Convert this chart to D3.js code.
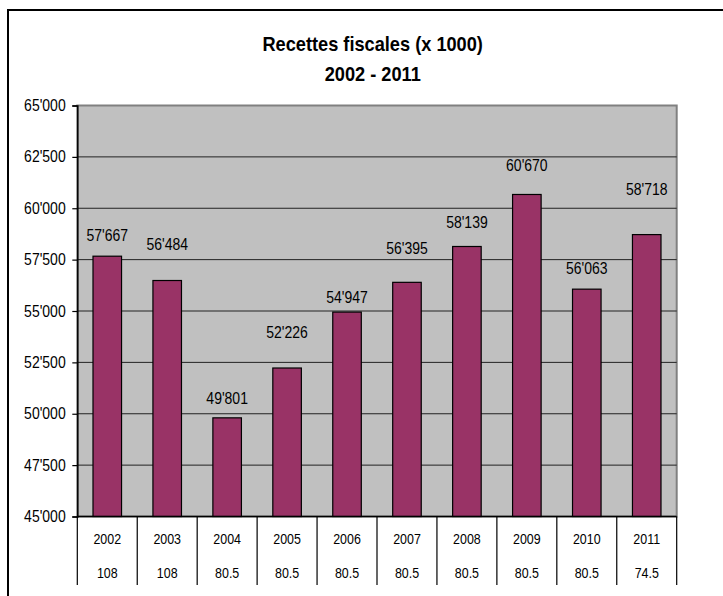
<!DOCTYPE html>
<html>
<head>
<meta charset="utf-8">
<script src="https://cdn.jsdelivr.net/npm/d3@7"></script>
<style>
  html, body { margin: 0; padding: 0; background: #fff; }
  svg { display: block; font-family: "Liberation Sans", Arial, sans-serif; }
</style>
</head>
<body>
<svg id="chart" width="723" height="596"></svg>
<script>
// ---- data ----
const years = ["2002","2003","2004","2005","2006","2007","2008","2009","2010","2011"];
const recettes = [57667, 56484, 49801, 52226, 54947, 56395, 58139, 60670, 56063, 58718];
const taux = ["108","108","80.5","80.5","80.5","80.5","80.5","80.5","80.5","74.5"];
const yTicks = [45000, 47500, 50000, 52500, 55000, 57500, 60000, 62500, 65000];
const titleLines = ["Recettes fiscales (x 1000)", "2002 - 2011"];

// ---- layout (label lift above bar top, px, as placed in the reference) ----
const labelLift = [21, 36, 20, 36, 15, 34, 24, 29, 21, 45];

const W = 723, H = 596;
const plot = { left: 77.3, right: 676.7, top: 105.5, bottom: 516.5 };
const svg = d3.select("#chart");
const fmt = d3.formatLocale({ decimal: ".", thousands: "'", grouping: [3], currency: ["", ""] }).format(",");
const narrow = 0.875;

svg.append("rect").attr("width", W).attr("height", H).attr("fill", "#fff");

// outer frame (extends beyond right/bottom edges)
svg.append("rect").attr("x", 8).attr("y", 10).attr("width", 800).attr("height", 700)
  .attr("fill", "none").attr("stroke", "#000").attr("stroke-width", 2);

const x = d3.scaleBand().domain(years).range([plot.left, plot.right]).padding(0);
const y = d3.scaleLinear().domain([45000, 65000]).range([plot.bottom, plot.top]);

// plot background
svg.append("rect").attr("x", plot.left).attr("y", plot.top)
  .attr("width", plot.right - plot.left).attr("height", plot.bottom - plot.top)
  .attr("fill", "#c0c0c0").attr("stroke", "#808080").attr("stroke-width", 2);

// gridlines
svg.append("g").selectAll("line").data(yTicks.filter(t => t > 45000 && t < 65000)).join("line")
  .attr("x1", plot.left).attr("x2", plot.right)
  .attr("y1", d => y(d)).attr("y2", d => y(d))
  .attr("stroke", "#222").attr("stroke-width", 1);

// bars
const barW = x.bandwidth() / 2.1;
svg.append("g").selectAll("rect").data(recettes).join("rect")
  .attr("x", (d, i) => x(years[i]) + (x.bandwidth() - barW) / 2)
  .attr("y", d => y(d))
  .attr("width", barW)
  .attr("height", d => plot.bottom - y(d))
  .attr("fill", "#993366").attr("stroke", "#000").attr("stroke-width", 1.2);

// value labels
svg.append("g").selectAll("g").data(recettes).join("g")
  .attr("transform", (d, i) => `translate(${x(years[i]) + x.bandwidth() / 2},${y(d) - labelLift[i]})`)
  .append("text")
  .attr("transform", `scale(${narrow},1)`)
  .attr("text-anchor", "middle").attr("dy", "0.36em")
  .attr("font-size", 16).attr("fill", "#000")
  .text(d => fmt(d));

// y axis
const yAxis = svg.append("g").attr("transform", `translate(${plot.left},0)`)
  .call(d3.axisLeft(y).tickValues(yTicks).tickSize(5).tickPadding(8.3).tickFormat(fmt));
yAxis.select(".domain").attr("stroke", "#000").attr("stroke-width", 1.5);
yAxis.selectAll(".tick line").attr("stroke", "#000").attr("stroke-width", 1.2);
yAxis.selectAll(".tick text")
  .attr("transform", `scale(${narrow},1)`)
  .attr("font-size", 16).attr("font-family", "Liberation Sans, Arial, sans-serif").attr("fill", "#000");

// baseline
svg.append("line").attr("x1", plot.left).attr("x2", plot.right)
  .attr("y1", plot.bottom).attr("y2", plot.bottom)
  .attr("stroke", "#000").attr("stroke-width", 1.5);

// data table under the axis
const tableBottom = 585;
const edges = years.map(yr => x(yr)).concat([plot.right]);
svg.append("g").selectAll("line").data(edges).join("line")
  .attr("x1", d => d).attr("x2", d => d)
  .attr("y1", plot.bottom).attr("y2", tableBottom)
  .attr("stroke", "#000").attr("stroke-width", 1.2);

const rows = [years, taux];
const rowY = [539, 573];
rows.forEach((row, r) => {
  svg.append("g").selectAll("g").data(row).join("g")
    .attr("transform", (d, i) => `translate(${x(years[i]) + x.bandwidth() / 2},${rowY[r]})`)
    .append("text")
    .attr("transform", `scale(0.83,1)`)
    .attr("text-anchor", "middle").attr("dy", "0.36em")
    .attr("font-size", 15).attr("fill", "#000")
    .text(d => d);
});

// title
const titleY = [43.3, 73.3];
titleLines.forEach((t, i) => {
  svg.append("g").attr("transform", `translate(372.7,${titleY[i]})`)
    .append("text")
    .attr("transform", "scale(0.91,1)")
    .attr("text-anchor", "middle").attr("dy", "0.36em")
    .attr("font-size", 20).attr("font-weight", "bold").attr("fill", "#000")
    .text(t);
});
</script>
</body>
</html>
